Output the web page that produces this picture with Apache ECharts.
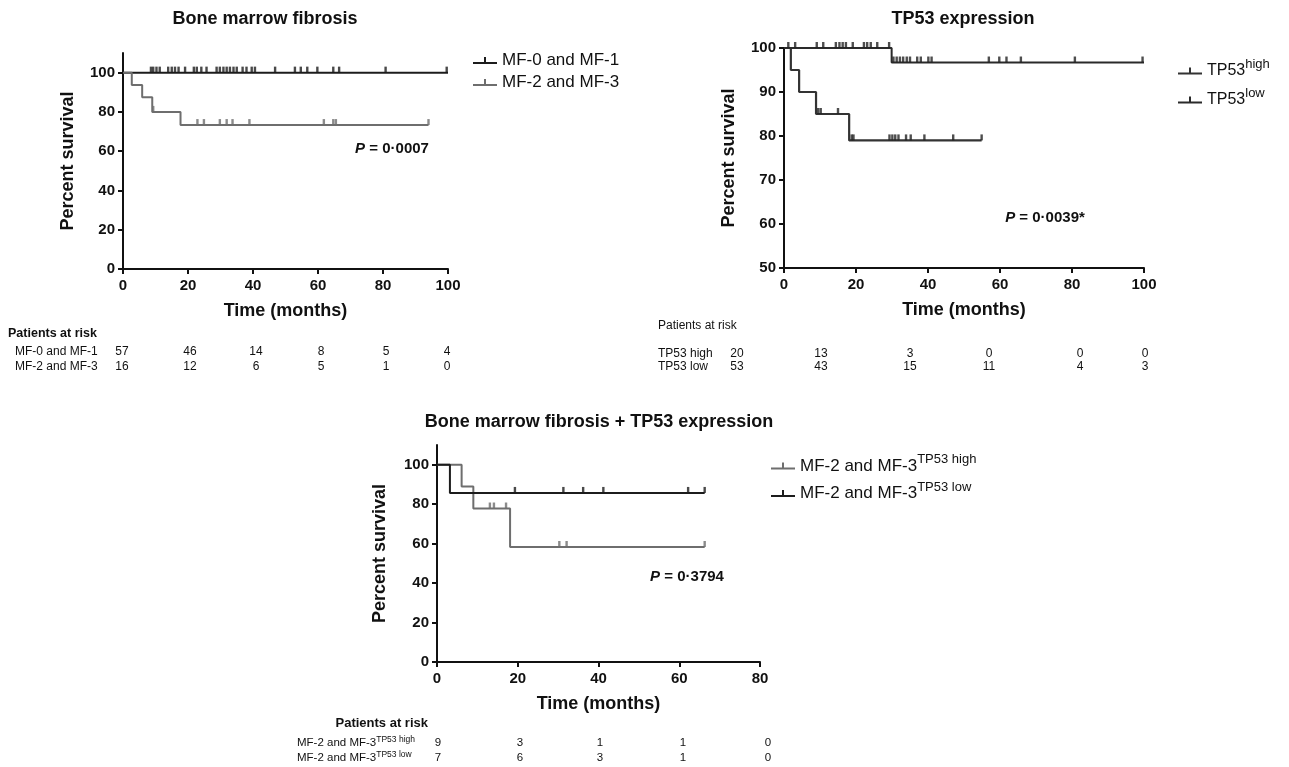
<!DOCTYPE html>
<html><head><meta charset="utf-8">
<script src="https://cdn.jsdelivr.net/npm/echarts@6.0.0/dist/echarts.min.js"></script>
<style>html,body{margin:0;padding:0;background:#fff}#c{width:1289px;height:767px}</style>
</head><body><div id="c"></div>
<script>
// ---------- Panel 1: Bone marrow fibrosis ----------
const mf01Times = [0, 100];
const mf01Surv = [100, 100];
const mf01Censor = [8.6, 9.3, 10.3, 11.3, 13.9, 15, 16, 17.1, 19.1, 21.8, 22.7, 24.1, 25.7, 28.8, 29.8, 30.9, 31.9, 32.9, 34, 35, 36.8, 38, 39.6, 40.6, 46.8, 52.9, 54.7, 56.7, 59.8, 64.7, 66.5, 80.8, 99.6];
const mf23Times = [0, 2.7, 5.9, 9.0, 17.7, 94];
const mf23Surv = [100, 93.75, 87.5, 80, 73.3, 73.3];
const mf23Censor = [9.3, 22.9, 24.9, 29.8, 31.9, 33.7, 38.9, 61.8, 64.7, 65.5, 94];
const riskTimes1 = [0, 20, 40, 60, 80, 100];
const risk01 = [57, 46, 14, 8, 5, 4];
const risk23 = [16, 12, 6, 5, 1, 0];

// ---------- Panel 2: TP53 expression ----------
const tpHighTimes = [0, 1.9, 4.2, 8.9, 18.1, 54.9];
const tpHighSurv = [100, 95, 90, 85, 79, 79];
const tpHighCensor = [9.5, 10.2, 15, 18.8, 19.3, 29.3, 30.1, 30.9, 31.8, 33.9, 35.2, 39, 47, 54.9];
const tpLowTimes = [0, 29.9, 100];
const tpLowSurv = [100, 96.7, 96.7];
const tpLowCensor = [1.2, 3.1, 9.1, 10.9, 14.4, 15.4, 16.3, 17.2, 19.1, 22.2, 23.1, 24.1, 25.9, 29.2, 30.4, 31.3, 32.2, 33.1, 34.1, 35.0, 37, 38, 40.1, 41, 56.9, 59.8, 61.8, 65.8, 80.8, 99.6];
const riskHigh = [20, 13, 3, 0, 0, 0];
const riskLow = [53, 43, 15, 11, 4, 3];

// ---------- Panel 3: Bone marrow fibrosis + TP53 expression ----------
const cHighTimes = [0, 6.1, 9, 18.1, 66.3];
const cHighSurv = [100, 88.9, 77.8, 58.3, 58.3];
const cHighCensor = [13.1, 14.1, 17.1, 30.3, 32.1, 66.3];
const cLowTimes = [0, 3.2, 66.3];
const cLowSurv = [100, 85.7, 85.7];
const cLowCensor = [19.3, 31.3, 36.2, 41.2, 62.2, 66.3];
const riskCHigh = [9, 3, 1, 1, 0];
const riskCLow = [7, 6, 3, 1, 0];

const yTicks110 = [0, 20, 40, 60, 80, 100];

const FF = '"Liberation Sans", Arial, Helvetica, sans-serif';
const INK = '#111';

function pairs(t, s) { return t.map((v, i) => [v, s[i]]); }
function survAt(t, s, x) { let v = s[0]; for (let i = 0; i < t.length; i++) if (t[i] <= x) v = s[i]; return v; }
function censorPts(t, s, c) { return c.map(x => [x, survAt(t, s, x)]); }

function xAx(grid, max) {
  return {
    type: 'value', gridIndex: grid, min: 0, max: max, interval: 20,
    name: 'Time (months)', nameLocation: 'middle', nameGap: 33,
    nameTextStyle: { fontFamily: FF, fontSize: 18, fontWeight: 'bold', color: INK },
    axisLine: { show: true, onZero: false, lineStyle: { color: INK, width: 2 } },
    axisTick: { show: true, length: 5, lineStyle: { color: INK, width: 2 } },
    axisLabel: { fontFamily: FF, fontSize: 15, fontWeight: 'bold', color: INK, margin: 9 },
    splitLine: { show: false }
  };
}
function yAx(grid, min, max, interval, custom, gap) {
  const a = {
    type: 'value', gridIndex: grid, min: min, max: max, interval: interval,
    name: 'Percent survival', nameLocation: 'middle', nameGap: gap,
    nameTextStyle: { fontFamily: FF, fontSize: 18, fontWeight: 'bold', color: INK },
    axisLine: { show: true, onZero: false, lineStyle: { color: INK, width: 2 } },
    axisTick: { show: true, length: 5, lineStyle: { color: INK, width: 2 } },
    axisLabel: { fontFamily: FF, fontSize: 15, fontWeight: 'bold', color: INK, margin: 8 },
    splitLine: { show: false }
  };
  if (custom) { a.axisTick.customValues = custom; a.axisLabel.customValues = custom; }
  return a;
}
function kmLine(name, xi, t, s, color, w) {
  return { name: name, type: 'line', step: 'end', xAxisIndex: xi, yAxisIndex: xi, data: pairs(t, s),
    symbol: 'none', showSymbol: false, clip: false, z: 3,
    lineStyle: { color: color, width: w || 2 }, itemStyle: { color: color } };
}
function kmCens(name, xi, t, s, c, color) {
  return { name: name, type: 'scatter', xAxisIndex: xi, yAxisIndex: xi, data: censorPts(t, s, c),
    symbol: 'rect', symbolSize: [2.4, 6], symbolOffset: [0, -3], clip: false, silent: true, z: 4,
    itemStyle: { color: color } };
}

const C_BLACK = '#1c1c1c', C_GRAY = '#6e6e6e';
const legendIcon = 'path://M0,5 L24,5 L24,7 L0,7 Z M11,0 L13,0 L13,5 L11,5 Z';
const legendNames = {
  'MF-0 and MF-1': 'MF-0 and MF-1',
  'MF-2 and MF-3': 'MF-2 and MF-3',
  'TP53 high': '{m|TP53}{s|high}',
  'TP53 low': '{m|TP53}{s|low}',
  'MF-2 and MF-3 TP53 high': '{m|MF-2 and MF-3}{s|TP53 high}',
  'MF-2 and MF-3 TP53 low': '{m|MF-2 and MF-3}{s|TP53 low}'
};
function legendFmt(n) { return legendNames[n]; }
function richLegend(mainSize, supSize) {
  return { fontFamily: FF, fontSize: mainSize, color: INK,
    rich: { m: { fontFamily: FF, fontSize: mainSize, lineHeight: 26, color: INK },
            s: { fontFamily: FF, fontSize: supSize, lineHeight: 10, verticalAlign: 'top', color: INK } } };
}

// free text helpers
function T(x, y, text, size, bold, align, extra) {
  const st = Object.assign({ text: text, x: x, y: y, font: (bold ? 'bold ' : '') + size + 'px ' + FF,
    fill: INK, textAlign: align || 'left', textVerticalAlign: 'middle' }, extra || {});
  return { type: 'text', silent: true, style: st };
}
function pText(x, y, rest) {
  return { type: 'text', silent: true, style: { x: x, y: y, textAlign: 'center', textVerticalAlign: 'middle',
    text: '{i|P}{b| = ' + rest + '}', fill: INK,
    rich: { i: { fontFamily: FF, fontSize: 15, fontWeight: 'bold', fontStyle: 'italic', fill: INK, color: INK },
            b: { fontFamily: FF, fontSize: 15, fontWeight: 'bold', fill: INK, color: INK } } } };
}
function supLabel(x, y, main, sup, mainSize, supSize) {
  return { type: 'text', silent: true, style: { x: x, y: y, textAlign: 'left', textVerticalAlign: 'middle',
    text: '{m|' + main + '}{s|' + sup + '}', fill: INK,
    rich: { m: { fontFamily: FF, fontSize: mainSize, lineHeight: 15, fill: INK, color: INK },
            s: { fontFamily: FF, fontSize: supSize, lineHeight: 8, verticalAlign: 'top', fill: INK, color: INK } } } };
}

const graphics = [];
// titles
graphics.push(T(265, 19, 'Bone marrow fibrosis', 18, true, 'center'));
graphics.push(T(963, 19, 'TP53 expression', 18, true, 'center'));
graphics.push(T(599, 422, 'Bone marrow fibrosis + TP53 expression', 18, true, 'center'));
// P values
graphics.push(pText(392, 149, '0\u00b70007'));
graphics.push(pText(1045, 218, '0\u00b70039*'));
graphics.push(pText(687, 577, '0\u00b73794'));
// risk table 1
const rx1 = [122, 190, 256, 321, 386, 447];
graphics.push(T(8, 334, 'Patients at risk', 12.5, true, 'left'));
graphics.push(T(15, 352, 'MF-0 and MF-1', 12, false, 'left'));
graphics.push(T(15, 367, 'MF-2 and MF-3', 12, false, 'left'));
risk01.forEach((v, i) => graphics.push(T(rx1[i], 352, String(v), 12, false, 'center')));
risk23.forEach((v, i) => graphics.push(T(rx1[i], 367, String(v), 12, false, 'center')));
// risk table 2
const rx2 = [737, 821, 910, 989, 1080, 1145];
graphics.push(T(658, 326, 'Patients at risk', 12, false, 'left'));
graphics.push(T(658, 354, 'TP53 high', 12, false, 'left'));
graphics.push(T(658, 367, 'TP53 low', 12, false, 'left'));
riskHigh.forEach((v, i) => graphics.push(T(rx2[i], 354, String(v), 12, false, 'center')));
riskLow.forEach((v, i) => graphics.push(T(rx2[i], 367, String(v), 12, false, 'center')));
// risk table 3
const rx3 = [438, 520, 600, 683, 768];
graphics.push(T(428, 723, 'Patients at risk', 13, true, 'right'));
graphics.push(supLabel(297, 743, 'MF-2 and MF-3', 'TP53 high', 11.5, 8.5));
graphics.push(supLabel(297, 758, 'MF-2 and MF-3', 'TP53 low', 11.5, 8.5));
riskCHigh.forEach((v, i) => graphics.push(T(rx3[i], 743, String(v), 11.5, false, 'center')));
riskCLow.forEach((v, i) => graphics.push(T(rx3[i], 758, String(v), 11.5, false, 'center')));

const option = {
  backgroundColor: '#ffffff',
  animation: false,
  grid: [
    { left: 123, top: 53, width: 325, height: 216 },
    { left: 784, top: 48, width: 360, height: 220 },
    { left: 437, top: 445, width: 323, height: 217 }
  ],
  xAxis: [xAx(0, 100), xAx(1, 100), xAx(2, 80)],
  yAxis: [yAx(0, 0, 110, 20, yTicks110, 46), yAx(1, 50, 100, 10, null, 46), yAx(2, 0, 110, 20, yTicks110, 48)],
  legend: [
    { data: ['MF-0 and MF-1', 'MF-2 and MF-3'], orient: 'vertical', left: 468, top: 47, itemGap: 5,
      icon: legendIcon, itemWidth: 24, itemHeight: 7, selectedMode: false,
      textStyle: { fontFamily: FF, fontSize: 17, color: INK } },
    { data: ['TP53 high', 'TP53 low'], orient: 'vertical', left: 1173, top: 53, itemGap: 8,
      icon: legendIcon, itemWidth: 24, itemHeight: 7, selectedMode: false, formatter: legendFmt,
      textStyle: richLegend(16, 13) },
    { data: ['MF-2 and MF-3 TP53 high', 'MF-2 and MF-3 TP53 low'], orient: 'vertical', left: 766, top: 448, itemGap: 6,
      icon: legendIcon, itemWidth: 24, itemHeight: 7, selectedMode: false, formatter: legendFmt,
      textStyle: richLegend(17, 13) }
  ],
  series: [
    kmLine('MF-0 and MF-1', 0, mf01Times, mf01Surv, C_BLACK),
    kmCens('c01', 0, mf01Times, mf01Surv, mf01Censor, C_BLACK),
    kmLine('MF-2 and MF-3', 0, mf23Times, mf23Surv, C_GRAY),
    kmCens('c23', 0, mf23Times, mf23Surv, mf23Censor, C_GRAY),
    kmLine('TP53 high', 1, tpHighTimes, tpHighSurv, '#333333', 2.2),
    kmCens('cHigh', 1, tpHighTimes, tpHighSurv, tpHighCensor, '#222222'),
    kmLine('TP53 low', 1, tpLowTimes, tpLowSurv, '#2a2a2a', 2),
    kmCens('cLow', 1, tpLowTimes, tpLowSurv, tpLowCensor, '#222222'),
    kmLine('MF-2 and MF-3 TP53 high', 2, cHighTimes, cHighSurv, C_GRAY),
    kmCens('ccHigh', 2, cHighTimes, cHighSurv, cHighCensor, C_GRAY),
    kmLine('MF-2 and MF-3 TP53 low', 2, cLowTimes, cLowSurv, C_BLACK),
    kmCens('ccLow', 2, cLowTimes, cLowSurv, cLowCensor, C_BLACK)
  ],
  graphic: { elements: graphics }
};

const chart = echarts.init(document.getElementById('c'), null, { renderer: 'canvas' });
chart.setOption(option);
</script>
</body></html>
